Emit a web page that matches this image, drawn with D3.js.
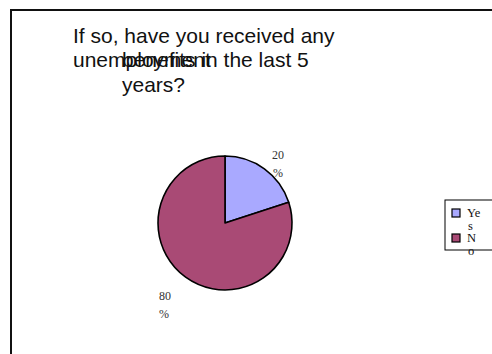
<!DOCTYPE html>
<html>
<head>
<meta charset="utf-8">
<script src="https://cdn.jsdelivr.net/npm/d3@7"></script>
<style>
  body { margin: 0; background: #fff; }
  svg { display: block; }
</style>
</head>
<body>
<div id="chart"></div>
<script>
// chart values
const categories = ["Yes", "No"];
const values = [20, 80];
const labelLines = [["20", "%"], ["80", "%"]];
const legendLines = [["Ye", "s"], ["N", "o"]];
const titleLines = [
  ["If so, have you received any", 0],
  ["unemployment", 0],
  ["benefits in the last 5", 1],
  ["years?", 1]
];
const colours = ["#a9a9ff", "#a94a75"];

const width = 492, height = 354;
const cx = 225, cy = 223, radius = 67;

const svg = d3.select("#chart").append("svg")
    .attr("width", width)
    .attr("height", height);

// outer frame, runs off the right and bottom
svg.append("rect")
    .attr("x", 11).attr("y", 10)
    .attr("width", 500).attr("height", 400)
    .attr("fill", "none")
    .attr("stroke", "#111")
    .attr("stroke-width", 2);

// title, the two overlapping lines are how the source draws it
svg.append("g").selectAll("text")
    .data(titleLines)
    .enter().append("text")
    .attr("x", d => d[1] ? 122 : 73)
    .attr("y", (d, i) => i < 2 ? 43 + i * 24 : 67 + (i - 2) * 25)
    .attr("font-family", "'Liberation Sans', Arial, sans-serif")
    .attr("font-size", 21)
    .attr("fill", "#111")
    .text(d => d[0]);

const pie = d3.pie().sort(null).value(d => d);
const arcs = pie(values);
const arc = d3.arc().innerRadius(0).outerRadius(radius);

const g = svg.append("g").attr("transform", `translate(${cx},${cy})`);

g.selectAll("path")
    .data(arcs)
    .enter().append("path")
    .attr("d", arc)
    .attr("fill", (d, i) => colours[i])
    .attr("stroke", "#000")
    .attr("stroke-width", 1.6)
    .attr("stroke-linejoin", "round");

// data labels, pushed further out in the lower half like the original
const upper = d => Math.cos((d.startAngle + d.endAngle) / 2) > 0;

const labelG = g.selectAll("g.lbl")
    .data(arcs)
    .enter().append("g")
    .attr("class", "lbl")
    .attr("transform", d => {
        const r = upper(d) ? radius + 13 : radius + 35;
        const p = d3.arc().innerRadius(r).outerRadius(r).centroid(d);
        return `translate(${p[0]},${p[1]})`;
    });

labelG.each(function(d, i) {
    const top = upper(d);
    d3.select(this).selectAll("text")
        .data(labelLines[i])
        .enter().append("text")
        .attr("x", (t, j) => j === 0 ? 0 : (top ? 1 : -1))
        .attr("y", (t, j) => (top ? 1 : -6) + j * 18)
        .attr("text-anchor", top ? "start" : "middle")
        .attr("font-family", "'Liberation Serif', 'Times New Roman', serif")
        .attr("font-size", 12)
        .attr("fill", "#333")
        .text(t => t);
});

// legend
const legend = svg.append("g").attr("transform", "translate(445,200)");
legend.append("rect")
    .attr("width", 60).attr("height", 50)
    .attr("fill", "#fff")
    .attr("stroke", "#000")
    .attr("stroke-width", 1);

const item = legend.selectAll("g.item")
    .data(categories)
    .enter().append("g")
    .attr("class", "item")
    .attr("transform", (d, i) => `translate(7,${9 + i * 25})`);

item.append("rect")
    .attr("width", 8).attr("height", 8)
    .attr("fill", (d, i) => colours[i])
    .attr("stroke", "#000")
    .attr("stroke-width", 1.2);

item.selectAll("text")
    .data((d, i) => legendLines[i])
    .enter().append("text")
    .attr("x", (t, j) => j === 0 ? 15 : 16)
    .attr("y", (t, j) => 8 + j * 13)
    .attr("font-family", "'Liberation Serif', 'Times New Roman', serif")
    .attr("font-size", 12.5)
    .attr("fill", "#111")
    .text(t => t);
</script>
</body>
</html>
